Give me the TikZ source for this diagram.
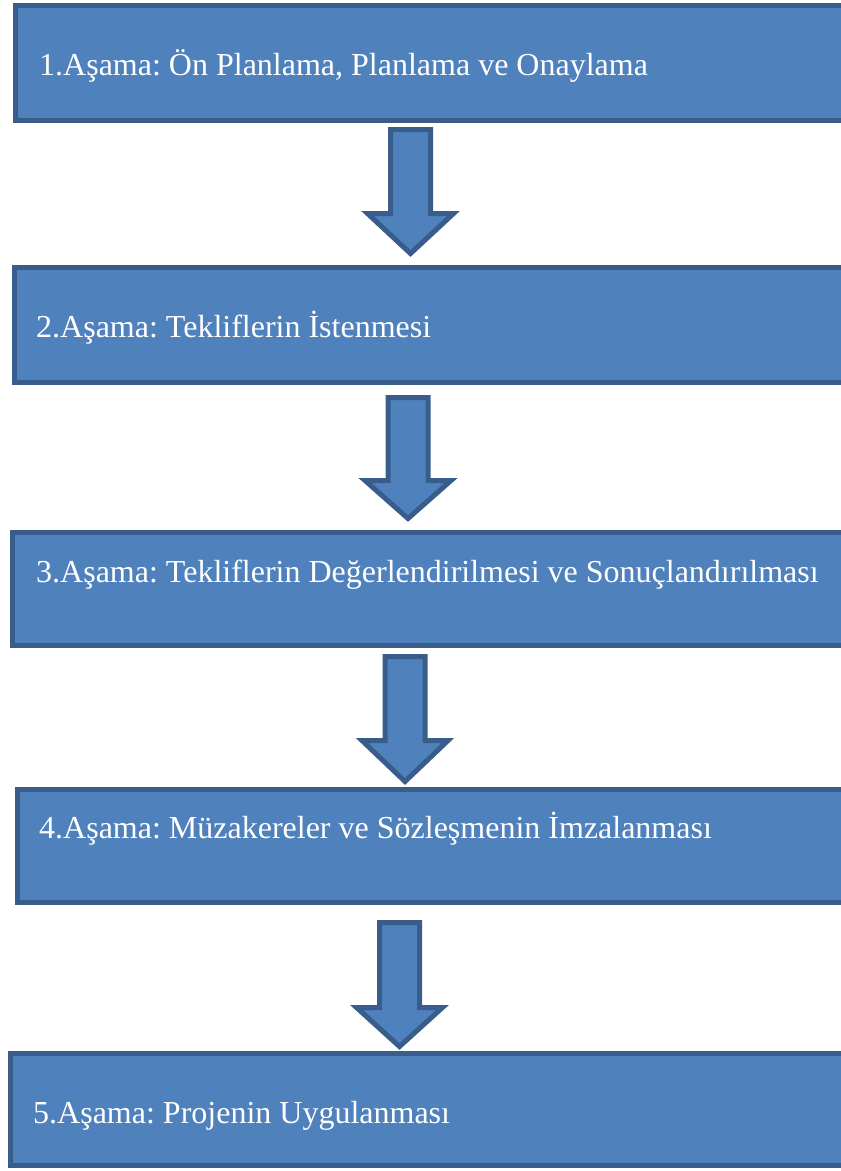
\documentclass[tikz,border=0pt]{standalone}
\usepackage{fontspec}
\setmainfont{Liberation Serif}
\usepackage{tikz}
\usetikzlibrary{positioning}

\definecolor{stagefill}{HTML}{4F81BD}
\definecolor{stageline}{HTML}{385D8A}
\frenchspacing

\begin{document}
\begin{tikzpicture}[
    x=1pt, y=-1pt,
    stagebox/.style={draw=stageline, fill=stagefill, line width=5pt,
      rectangle, anchor=north west, minimum width=850pt, inner sep=0pt},
    stagetext/.style={text=white, anchor=base west, inner sep=0pt,
      font=\fontsize{32}{38}\selectfont},
    downarrow/.style={draw=stageline, fill=stagefill, line width=5pt,
      line join=miter},
]
\useasboundingbox (0,0) rectangle (841,1171);
\clip (0,0) rectangle (841,1171);

% ---------------------------------------------------------
% stage boxes
% ---------------------------------------------------------
\node[stagebox, minimum height=115pt] (s1) at (13,3) {};
\node[stagetext] (t1) at (39,75)
  {1.Aşama: Ön Planlama, Planlama ve Onaylama};

\node[stagebox, minimum height=115pt] (s2) at (12,265) {};
\node[stagetext] (t2) at (36,337) {2.Aşama: Tekliflerin İstenmesi};

\node[stagebox, minimum height=113pt] (s3) at (10,530) {};
\node[stagetext] (t3) at (36,582)
  {3.Aşama: Tekliflerin Değerlendirilmesi ve Sonuçlandırılması};

\node[stagebox, minimum height=113pt] (s4) at (15,787) {};
\node[stagetext] (t4) at (39,838)
  {4.Aşama: Müzakereler ve Sözleşmenin İmzalanması};

\node[stagebox, minimum height=112pt] (s5) at (8,1051) {};
\node[stagetext] (t5) at (33,1123) {5.Aşama: Projenin Uygulanması};

% ---------------------------------------------------------
% block arrows between the stages
% ---------------------------------------------------------
\foreach \cx/\top/\hy/\tip in {410.5/129.5/213.5/253.5,
                               408/397.5/480.5/518.5,
                               405/656.5/740.5/781.5,
                               399.5/922.5/1007.5/1046.5}
  {\draw[downarrow]
     (\cx-20,\top) -- (\cx+20,\top) -- (\cx+20,\hy) -- (\cx+43,\hy)
     -- (\cx,\tip) -- (\cx-43,\hy) -- (\cx-20,\hy) -- cycle;}

\end{tikzpicture}
\end{document}
